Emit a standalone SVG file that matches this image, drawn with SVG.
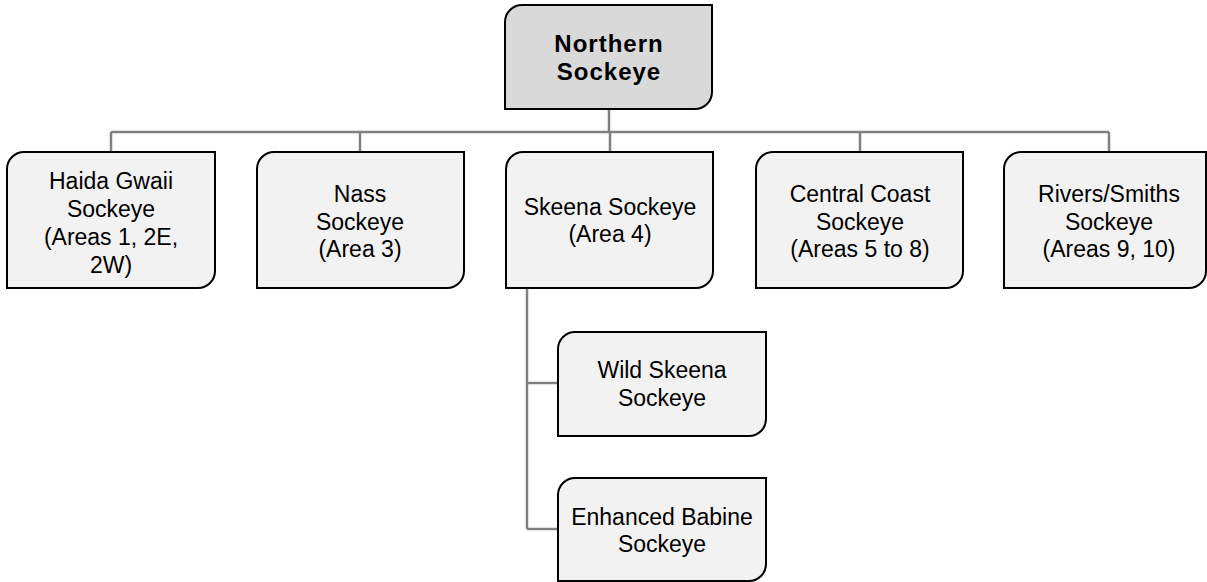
<svg xmlns="http://www.w3.org/2000/svg" width="1207" height="582" viewBox="0 0 1207 582">
<style>
.box{fill:#f2f2f2;stroke:#000;stroke-width:2}
.root{fill:#d9d9d9;stroke:#000;stroke-width:2}
.t{font-family:"Liberation Sans",Arial,sans-serif;font-size:23px;fill:#000;text-anchor:middle}
.b{font-weight:bold;font-size:24px;letter-spacing:1px}
.c{fill:none;stroke:#808080;stroke-width:2.5}
</style>
<rect width="1207" height="582" fill="#fff"/>
<g id="connectors">
<path class="c" d="M609 109V132M111 132H1109M111 132V152M360 132V152M610 132V152M860 132V152M1109 132V152"/>
<path class="c" d="M527 288V529M527 383H558M527 529H558"/>
</g>
<g id="n-root">
<path class="root" d="M522 5H712V92A17 17 0 0 1 695 109H505V22A17 17 0 0 1 522 5Z"/>
<text class="t b" x="609" y="52">Northern</text>
<text class="t b" x="609" y="80">Sockeye</text>
</g>
<g id="n-haida">
<path class="box" d="M24 152H215V271A17 17 0 0 1 198 288H7V169A17 17 0 0 1 24 152Z"/>
<text class="t" x="111" y="189">Haida Gwaii</text>
<text class="t" x="111" y="217">Sockeye</text>
<text class="t" x="111" y="245">(Areas 1, 2E,</text>
<text class="t" x="111" y="273">2W)</text>
</g>
<g id="n-nass">
<path class="box" d="M274 152H464V271A17 17 0 0 1 447 288H257V169A17 17 0 0 1 274 152Z"/>
<text class="t" x="360" y="202">Nass</text>
<text class="t" x="360" y="230">Sockeye</text>
<text class="t" x="360" y="257">(Area 3)</text>
</g>
<g id="n-skeena">
<path class="box" d="M523 152H713V271A17 17 0 0 1 696 288H506V169A17 17 0 0 1 523 152Z"/>
<text class="t" x="610" y="215">Skeena Sockeye</text>
<text class="t" x="610" y="242">(Area 4)</text>
</g>
<g id="n-central">
<path class="box" d="M773 152H963V271A17 17 0 0 1 946 288H756V169A17 17 0 0 1 773 152Z"/>
<text class="t" x="860" y="202">Central Coast</text>
<text class="t" x="860" y="230">Sockeye</text>
<text class="t" x="860" y="257">(Areas 5 to 8)</text>
</g>
<g id="n-rivers">
<path class="box" d="M1021 152H1206V271A17 17 0 0 1 1189 288H1004V169A17 17 0 0 1 1021 152Z"/>
<text class="t" x="1109" y="202">Rivers/Smiths</text>
<text class="t" x="1109" y="230">Sockeye</text>
<text class="t" x="1109" y="257">(Areas 9, 10)</text>
</g>
<g id="n-wild">
<path class="box" d="M575 332H766V419A17 17 0 0 1 749 436H558V349A17 17 0 0 1 575 332Z"/>
<text class="t" x="662" y="378">Wild Skeena</text>
<text class="t" x="662" y="406">Sockeye</text>
</g>
<g id="n-enhanced">
<path class="box" d="M575 478H766V564A17 17 0 0 1 749 581H558V495A17 17 0 0 1 575 478Z"/>
<text class="t" x="662" y="525">Enhanced Babine</text>
<text class="t" x="662" y="552">Sockeye</text>
</g>
</svg>
